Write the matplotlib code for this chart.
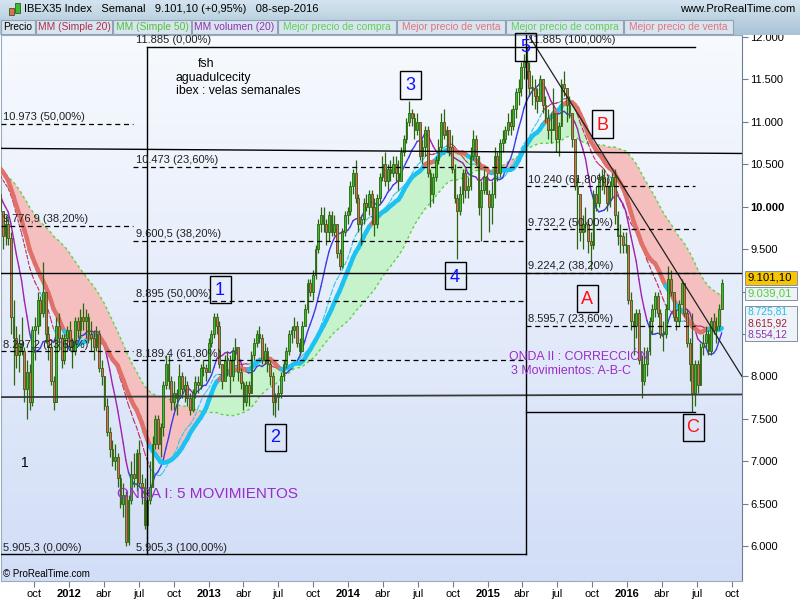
import numpy as np
import pandas as pd
import matplotlib
matplotlib.use("Agg")
import matplotlib.pyplot as plt
import matplotlib.dates as mdates
from matplotlib.collections import LineCollection
from matplotlib.patches import Rectangle
from matplotlib.colors import LinearSegmentedColormap

plt.rcParams['font.family'] = ['Liberation Sans', 'DejaVu Sans']

# -------------------------------
# Data: IBEX35, weekly candles (weeks from 2011-07-04 to 2016-09-05)
# -------------------------------
first_week = "2011-07-04"

# weekly closes of the year before the first candle (only feed the moving averages)
prev_closes = [10500, 10850, 10400, 10150, 10000, 10350, 10500, 10700, 10600, 10500,
               10700, 10800, 10850, 10800, 10900, 10500, 10150, 9800, 9750, 9900,
               9800, 9900, 9860, 10000, 10400, 10600, 10700, 10900, 10950, 10900,
               10750, 10800, 10600, 10300, 10500, 10600, 10750, 10550, 10500, 10650,
               10500, 10400, 10200, 10100, 10200, 10050, 9950, 9900, 10150]

closes = [9950, 9650, 9800, 9630, 8700, 8450, 8250, 8400, 8300, 7850,
          8050, 7700, 8550, 8600, 8900, 8750, 9000, 8500, 8350, 7950,
          7700, 8600, 8450, 8200, 8450, 8550, 8350, 8300, 8650, 8550,
          8700, 8650, 8700, 8500, 8450, 8350, 8500, 8100, 8000, 7650,
          7350, 7150, 7000, 7050, 6800, 6500, 6600, 6050, 6550, 6850,
          6800, 7100, 6750, 6700, 6250, 6550, 6700, 7200, 7500, 7200,
          7400, 7900, 8150, 7950, 7700, 7800, 7750, 8000, 7850, 7900,
          7750, 7600, 7800, 7930, 7900, 8100, 8100, 8050, 8400, 8500,
          8700, 8600, 8150, 7950, 8200, 8200, 8000, 8300, 8350, 8050,
          7920, 7700, 7900, 7800, 8250, 8400, 8500, 8450, 8200, 8300,
          8150, 8000, 7700, 7760, 7800, 8000, 8150, 8300, 8500, 8550,
          8600, 8400, 8300, 8600, 8800, 9100, 9000, 9200, 9500, 9800,
          9900, 9800, 9700, 9900, 9700, 9800, 9450, 9300, 9700, 9900,
          9950, 10250, 10400, 10100, 9800, 9850, 10050, 10000, 10150, 10000,
          9800, 10100, 10350, 10500, 10300, 10450, 10400, 10500, 10400, 10300,
          10650, 10800, 11000, 11100, 11050, 10900, 11000, 10600, 10700, 10900,
          10400, 10150, 10350, 10550, 10700, 11000, 10850, 10900, 10700, 10450,
          10100, 9950, 10150, 10400, 10200, 10250, 10600, 10800, 10600, 10000,
          10200, 10350, 10150, 10000, 10150, 10600, 10400, 10750, 10800, 10900,
          11000, 10950, 11150, 11350, 11400, 11650, 11700, 11600, 11400, 11400,
          11300, 11250, 11500, 11200, 11050, 10900, 10900, 11100, 10800, 10950,
          11450, 11400, 11200, 11100, 10800, 10250, 10150, 9700, 9800, 9800,
          9600, 9550, 10150, 10050, 10350, 10350, 10250, 10050, 10250, 10350,
          9900, 9650, 9650, 9550, 9550, 8900, 8650, 8600, 8750, 8200,
          7950, 8150, 8300, 8650, 8800, 8950, 8750, 8500, 8500, 8800,
          9150, 9000, 8700, 8650, 8850, 9100, 8750, 8400, 8150, 7800,
          8150, 7900, 8350, 8400, 8500, 8300, 8650, 8550, 8600, 8800,
          9101.1]

highs = [10250, 9950, 9900, 9850, 9700, 8900, 8600, 8500, 8700, 8350,
         8200, 8150, 8600, 8700, 9000, 8950, 9350, 9000, 8600, 8400,
         8000, 8700, 8750, 8500, 8500, 8600, 8650, 8450, 8700, 8700,
         8800, 8870, 8800, 8750, 8650, 8550, 8600, 8550, 8200, 8000,
         7750, 7400, 7250, 7200, 7100, 6850, 6750, 6650, 6600, 7000,
         7100, 7150, 7250, 6850, 6800, 6700, 7000, 7300, 7550, 7550,
         7450, 7950, 8250, 8250, 8000, 7950, 7850, 8150, 8050, 8000,
         7950, 7800, 7850, 8000, 8000, 8150, 8200, 8150, 8450, 8550,
         8750, 8750, 8650, 8150, 8250, 8300, 8250, 8350, 8450, 8350,
         8100, 7950, 7950, 7950, 8300, 8450, 8550, 8600, 8500, 8400,
         8350, 8200, 8050, 7800, 7900, 8050, 8200, 8350, 8550, 8600,
         8700, 8650, 8450, 8650, 8850, 9150, 9150, 9250, 9550, 9850,
         10000, 10000, 9850, 9950, 9950, 9900, 9800, 9500, 9750, 9950,
         10000, 10300, 10450, 10550, 10150, 9900, 10100, 10150, 10200, 10200,
         10100, 10150, 10400, 10600, 10650, 10500, 10550, 10600, 10600, 10550,
         10700, 10850, 11050, 11250, 11150, 11100, 11100, 11000, 10800, 10950,
         10950, 10450, 10400, 10600, 10800, 11100, 11150, 10950, 10900, 10850,
         10500, 10150, 10250, 10450, 10450, 10350, 10700, 10900, 10850, 10600,
         10300, 10450, 10400, 10200, 10300, 10700, 10650, 10800, 10900, 10950,
         11100, 11150, 11200, 11400, 11500, 11700, 11800, 11885, 11700, 11550,
         11500, 11400, 11550, 11500, 11300, 11150, 11100, 11400, 11000, 11000,
         11500, 11600, 11350, 11300, 11100, 10800, 10350, 10150, 9900, 10000,
         9850, 9700, 10200, 10250, 10400, 10450, 10450, 10350, 10300, 10400,
         10450, 9950, 9800, 9700, 9700, 9550, 9000, 8750, 8800, 8800,
         8250, 8350, 8350, 8700, 8850, 9000, 9000, 8800, 8650, 8850,
         9300, 9250, 9000, 8800, 8900, 9150, 9100, 8800, 8450, 8750,
         8200, 8200, 8400, 8500, 8600, 8550, 8700, 8750, 8700, 8850,
         9150]

lows = [9900, 9500, 9550, 9550, 8500, 7900, 8100, 8050, 8250, 7700,
        7500, 7600, 7650, 8200, 8500, 8600, 8700, 8400, 8200, 7900,
        7600, 7700, 8300, 8100, 8150, 8300, 8300, 8100, 8250, 8450,
        8450, 8550, 8450, 8400, 8300, 8200, 8300, 8050, 7900, 7600,
        7300, 7050, 6950, 6900, 6700, 6450, 6350, 6000, 6020, 6500,
        6700, 6650, 6700, 6500, 6200, 5905, 6500, 6700, 7150, 7150,
        7050, 7300, 7850, 7850, 7600, 7600, 7550, 7750, 7750, 7700,
        7650, 7550, 7580, 7750, 7800, 7850, 8000, 7950, 8050, 8350,
        8450, 8500, 8100, 7850, 7950, 8000, 7800, 7950, 8200, 7950,
        7850, 7600, 7650, 7650, 7800, 8200, 8350, 8400, 8150, 8150,
        8050, 7900, 7550, 7520, 7600, 7750, 7950, 8100, 8250, 8400,
        8450, 8350, 8250, 8300, 8600, 8750, 8950, 8900, 9150, 9450,
        9700, 9700, 9550, 9600, 9650, 9650, 9400, 9250, 9280, 9650,
        9800, 9900, 10150, 10050, 9700, 9550, 9800, 9950, 9900, 9800,
        9650, 9750, 10050, 10300, 10250, 10200, 10300, 10350, 10300, 10200,
        10300, 10600, 10750, 10950, 10950, 10800, 10850, 10550, 10500, 10600,
        10350, 10000, 10050, 10300, 10500, 10650, 10800, 10650, 10600, 10400,
        10050, 9380, 9900, 10050, 10100, 10100, 10200, 10550, 10500, 9900,
        9600, 10150, 10150, 9700, 9800, 10100, 10300, 10350, 10650, 10750,
        10850, 10850, 10900, 11050, 11200, 11300, 11500, 11500, 11300, 11200,
        11150, 11100, 11250, 11100, 11000, 10800, 10750, 10950, 10650, 10600,
        10950, 11300, 11000, 11050, 10700, 10200, 9500, 9600, 9500, 9700,
        9450, 9250, 9500, 9950, 10000, 10200, 10150, 9950, 10000, 10100,
        9800, 9550, 9450, 9450, 9450, 8850, 8550, 8250, 8450, 8150,
        7750, 7900, 8000, 8250, 8500, 8700, 8700, 8450, 8300, 8450,
        8800, 8950, 8650, 8550, 8600, 8850, 8700, 8350, 7950, 7580,
        7650, 7800, 7900, 8250, 8350, 8250, 8250, 8500, 8400, 8550,
        8800]

# Fibonacci retracements drawn on the chart
fib_a_levels = [10973, 9776.9, 8297.2]
fib_a_labels = ["10.973 (50,00%)", "9.776,9 (38,20%)", "8.297,2 (23,60%)"]
fib_b_levels = [10473, 9600.5, 8895, 8189.4]
fib_b_labels = ["10.473 (23,60%)", "9.600,5 (38,20%)", "8.895 (50,00%)", "8.189,4 (61,80%)"]
fib_c_levels = [10240, 9732.2, 9224.2, 8595.7]
fib_c_labels = ["10.240 (61,80%)", "9.732,2 (50,00%)", "9.224,2 (38,20%)", "8.595,7 (23,60%)"]
high_2015 = 11885
low_2012 = 5905.3
low_2016 = 7579.8

last_values = ["9.101,10", "9.039,01", "8.725,81", "8.615,92", "8.554,12"]

# -------------------------------
# Derived series
# -------------------------------
all_closes = np.array(prev_closes + closes, dtype=float)
n = len(closes)
c = np.array(closes, dtype=float)
o = all_closes[len(prev_closes) - 1:-1]
h = np.maximum(np.array(highs, float), np.maximum(o, c))
l = np.minimum(np.array(lows, float), np.minimum(o, c))

def sma(win):
    return pd.Series(all_closes).rolling(win).mean().values[-n:]

ma_fast = sma(10)
ma_20 = sma(20)
ma_mid = sma(24)
ma_slow = sma(50)

dates = pd.date_range(first_week, periods=n, freq="7D")
xd = mdates.date2num(dates)

def d(s):
    return mdates.date2num(pd.Timestamp(s))

W, H = 800, 600
fig = plt.figure(figsize=(8, 6), dpi=100)
fig.patch.set_facecolor("white")

def prect(x0, y0, x1, y1, **kw):
    fig.add_artist(Rectangle((x0 / W, 1 - y1 / H), (x1 - x0) / W, (y1 - y0) / H,
                             transform=fig.transFigure, **kw))

def ptext(x, y, s, **kw):
    fig.text(x / W, 1 - y / H, s, **kw)

# -------------------------------
# Main chart
# -------------------------------
ax = fig.add_axes([1 / W, 19 / H, 741 / W, 546 / H])
x_left, x_right = d("2011-07-06"), d("2016-10-28")
y_low, y_high = 5590, 12024

bg = LinearSegmentedColormap.from_list("bg", ["#f7fafe", "#d2def7"])
ax.imshow(np.linspace(0, 1, 256).reshape(-1, 1), extent=[0, 1, 0, 1], transform=ax.transAxes,
          cmap=bg, aspect="auto", zorder=0, origin="upper")

# band between the medium and the slow average
ax.fill_between(xd, ma_mid, ma_slow, where=ma_slow >= ma_mid, interpolate=True,
                color="#f5bfbf", lw=0, zorder=1)
ax.fill_between(xd, ma_mid, ma_slow, where=ma_slow < ma_mid, interpolate=True,
                color="#c6f2cc", lw=0, zorder=1)
ax.plot(xd, ma_slow, color="#5fd43c", lw=1, ls=(0, (2, 2)), zorder=2)

def colored_line(y, up, down, lw, ls="-", z=3):
    pts = np.column_stack([xd, y])
    segs = np.stack([pts[:-1], pts[1:]], axis=1)
    cols = np.where(c[1:] >= y[1:], up, down)
    ax.add_collection(LineCollection(segs, colors=list(cols), linewidths=lw,
                                     linestyles=ls, capstyle="round", zorder=z))

colored_line(ma_mid, "#1cc2f2", "#e0706a", 3.2, z=5)
colored_line(ma_20, "#36c8e8", "#c03060", 0.8, ls=(0, (3, 2)), z=4)
colored_line(ma_fast, "#3c3ce6", "#a020b0", 1.0, z=4)

# candles
up = c >= o
ax.vlines(xd, l, h, color="#2c6410", lw=0.9, zorder=6)
body_lo = np.minimum(o, c)
body_h = np.maximum(np.abs(c - o), 15)
ax.bar(xd[up], body_h[up], bottom=body_lo[up], width=4.6, color="#3dbb32",
       edgecolor="#2c6410", lw=0.6, zorder=7)
ax.bar(xd[~up], body_h[~up], bottom=body_lo[~up], width=4.6, color="#e8665c",
       edgecolor="#2c6410", lw=0.6, zorder=7)

# trend and support lines
ax.plot([x_left, x_right], [10688, 10628], color="black", lw=1, zorder=8)
ax.plot([x_left, x_right], [9224.2, 9224.2], color="black", lw=1, zorder=8)
ax.plot([x_left, x_right], [7757, 7788], color="#3a3a3a", lw=1.3, zorder=8)
ax.plot([d("2015-04-21"), x_right], [12000, 8000], color="#202020", lw=0.9, zorder=8)

# Fibonacci objects
t_low12, t_high15, t_low16 = d("2012-07-22"), d("2015-04-10"), d("2016-06-27")
fib_a_end, fib_b_start = d("2012-06-16"), d("2012-06-16")
dash = (0, (4, 3))
lab = dict(fontsize=8, color="#202020", zorder=9)
for lev, txt in zip(fib_a_levels, fib_a_labels):
    ax.plot([x_left, fib_a_end], [lev, lev], color="black", lw=0.9, ls=dash, zorder=8)
    ax.text(d("2011-07-12"), lev + 20, txt, va="bottom", **lab)
for lev, txt in zip(fib_b_levels, fib_b_labels):
    ax.plot([fib_b_start, t_high15], [lev, lev], color="black", lw=0.9, ls=dash, zorder=8)
    ax.text(d("2012-06-24"), lev + 20, txt, va="bottom", **lab)
for lev, txt in zip(fib_c_levels, fib_c_labels):
    ax.plot([t_high15, t_low16], [lev, lev], color="black", lw=0.9, ls=dash, zorder=8)
    ax.text(d("2015-04-16"), lev + 20, txt, va="bottom", **lab)

ax.plot([x_left, t_high15], [low_2012, low_2012], color="black", lw=1, zorder=8)
ax.plot([t_low12, t_low16], [high_2015, high_2015], color="black", lw=1, zorder=8)
ax.plot([t_high15, t_low16], [low_2016, low_2016], color="black", lw=1, zorder=8)
ax.plot([t_low12, t_low12], [low_2012, high_2015], color="black", lw=1, zorder=8)
ax.plot([t_high15, t_high15], [low_2012, y_high], color="black", lw=1, zorder=8)
ax.text(d("2011-07-12"), low_2012 + 20, "5.905,3 (0,00%)", va="bottom", **lab)
ax.text(d("2012-06-24"), low_2012 + 20, "5.905,3 (100,00%)", va="bottom", **lab)
ax.text(d("2012-06-24"), high_2015 + 20, "11.885 (0,00%)", va="bottom", **lab)
ax.text(d("2015-04-16"), high_2015 + 20, "11.885 (100,00%)", va="bottom", **lab)

ax.set_xlim(x_left, x_right)
ax.set_ylim(y_low, y_high)

# axes, ticks (the 9.000 and 8.500 labels sit under the value boxes)
ax.yaxis.tick_right()
yt = list(range(6000, 12001, 500))
ax.set_yticks(yt)
ax.set_yticklabels(["" if v in (9000, 8500) else f"{v:,}".replace(",", ".") for v in yt])
for t in ax.get_yticklabels():
    if t.get_text() == "10.000":
        t.set_fontweight("bold")
quarters = pd.date_range("2011-10-01", "2016-10-01", freq="QS-JAN")
month_names = {1: None, 4: "abr", 7: "jul", 10: "oct"}
ax.set_xticks(mdates.date2num(quarters))
ax.set_xticklabels([str(q.year) if q.month == 1 else month_names[q.month] for q in quarters])
for t, q in zip(ax.get_xticklabels(), quarters):
    if q.month == 1:
        t.set_fontweight("bold")
        t.set_fontsize(9)
ax.tick_params(axis="both", direction="out", length=4, width=0.8, color="#6a7f95",
               labelsize=8, pad=2)
for s in ["top", "bottom", "left"]:
    ax.spines[s].set_color("#9aabbf")
ax.spines["right"].set_color("#6a7f95")

# -------------------------------
# Header, legend row and labels
# -------------------------------
hax = fig.add_axes([0, 1 - 35 / H, 1, 35 / H])
head = LinearSegmentedColormap.from_list("head", ["#d4e4ef", "#a9c3d5"])
hax.imshow(np.linspace(0, 1, 64).reshape(-1, 1), cmap=head, aspect="auto", extent=[0, 1, 0, 1])
hax.set_axis_off()

prect(9, 8, 14, 15, fc="#e8665c", ec="#2c6410", lw=0.6)
prect(15, 3, 20, 13, fc="#3dbb32", ec="#2c6410", lw=0.6)
ptext(24, 9, "IBEX35 Index   Semanal   9.101,10 (+0,95%)   08-sep-2016", fontsize=8,
      va="center", ha="left")
ptext(795, 9, "www.ProRealTime.com", fontsize=8, va="center", ha="right")

legend_items = [("Precio", 1, 35, "black"), ("MM (Simple 20)", 36, 112, "#b0304e"),
                ("MM (Simple 50)", 113, 191, "#4fc23a"), ("MM volumen (20)", 192, 277, "#9030b0"),
                ("Mejor precio de compra", 278, 396, "#5ed05a"),
                ("Mejor precio de venta", 397, 505, "#e07482"),
                ("Mejor precio de compra", 506, 623, "#5ed05a"),
                ("Mejor precio de venta", 624, 733, "#e07482")]
for txt, x0, x1, col in legend_items:
    prect(x0, 20, x1, 34, fc="#d9e5ee", ec="#8ea4b6", lw=0.8)
    ptext((x0 + x1) / 2, 27, txt, fontsize=7.4, color=col, ha="center", va="center")

# value labels on the price axis
prect(745, 271, 797, 285, fc="#f8c600", ec="#8090a8", lw=0.7)
prect(745, 286.5, 797, 299.5, fc="#eef3f8", ec="#8090a8", lw=0.7)
prect(745, 305.5, 797, 341, fc="#eef3f8", ec="#8090a8", lw=0.7)
val_y = [278, 293, 312, 323.5, 334.5]
val_size = [8.2, 8.2, 7.4, 7.4, 7.4]
val_col = ["black", "#4fd03a", "#22bdf0", "#a01e3c", "#9030b0"]
for txt, yy, col, fs in zip(last_values, val_y, val_col, val_size):
    ptext(748, yy, txt, fontsize=fs, color=col, va="center", ha="left", zorder=5)

ptext(3, 574, "© ProRealTime.com", fontsize=7, va="center", ha="left")

# free text notes
ptext(198, 64, "fsh", fontsize=8.8, va="center")
ptext(176, 78, "aguadulcecity", fontsize=8.8, va="center")
ptext(176, 91, "ibex : velas semanales", fontsize=8.8, va="center")
ptext(117, 494, "ONDA I: 5 MOVIMIENTOS", fontsize=11, color="#9a2cc8", va="center")
ptext(509, 357, "ONDA II : CORRECCIÓN", fontsize=8.9, color="#9a2cc8", va="center")
ptext(511, 371, "3 Movimientos: A-B-C", fontsize=8.9, color="#9a2cc8", va="center")
ptext(25, 463, "1", fontsize=10, va="center", ha="center")

# wave labels in boxes
wave_labels = [("1", 220, 289, "#1010ff"), ("2", 275, 437, "#1010ff"), ("3", 410, 85, "#1010ff"),
               ("4", 455, 276, "#1010ff"), ("5", 525, 47, "#1010ff"), ("A", 587, 298, "#ff1010"),
               ("B", 602, 124, "#ff1010"), ("C", 693, 427, "#ff1010")]
for txt, xx, yy, col in wave_labels:
    prect(xx - 10.5, yy - 13.5, xx + 10.5, yy + 13.5, fc="none", ec="black", lw=1)
    ptext(xx, yy + 1, txt, fontsize=13, color=col, ha="center", va="center")

fig.savefig("out.png", dpi=100)
